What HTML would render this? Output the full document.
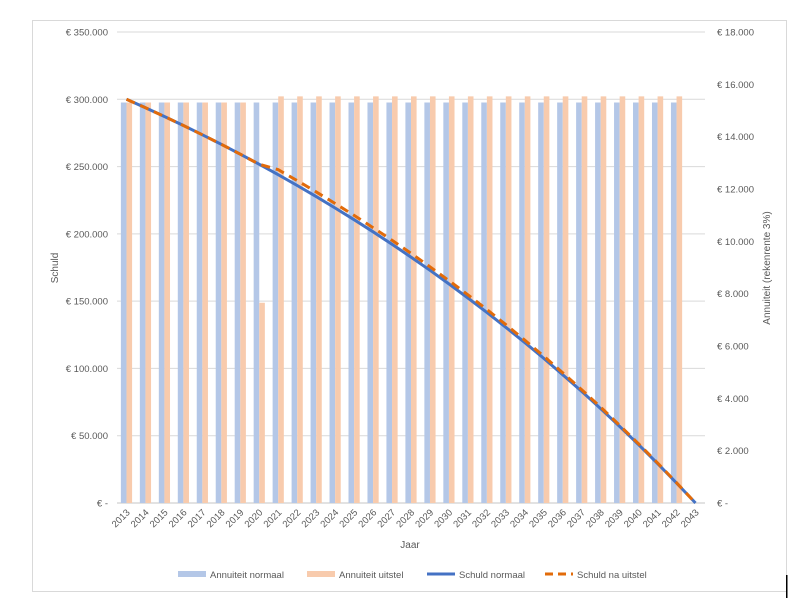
<!DOCTYPE html>
<html><head><meta charset="utf-8"><style>
body{margin:0;background:#fff;}
svg text{font-family:"Liberation Sans",sans-serif;fill:#595959;}
</style></head><body>
<svg id="c" width="804" height="607" xmlns="http://www.w3.org/2000/svg"></svg>
<script>
const s=document.getElementById('c');let h='';
h+='<rect x="32.5" y="20.5" width="754" height="571" fill="#fff" stroke="#d9d9d9"/>';
h+='<rect x="786" y="575" width="1.5" height="23" fill="#000"/>';
const x0=117,x1=705,y0=503,yt=32,H=y0-yt,n=31,cw=(x1-x0)/n;
const yl=v=>y0-v/350000*H, yr=v=>y0-v/18000*H, cx=i=>x0+cw*(i+0.5);
for(let k=0;k<=7;k++){const y=yl(k*50000);
 if(k>0)h+=`<line x1="${x0}" x2="${x1}" y1="${y}" y2="${y}" stroke="#d9d9d9"/>`;
 const lab=k==0?'€ -':'€ '+(k*50)+'.000';
 h+=`<text x="108" y="${y+3.5}" font-size="9.5" text-anchor="end">${lab}</text>`;}
for(let k=0;k<=9;k++){const v=k*2000;const y=yr(v);
 const lab=k==0?'€ -':'€ '+(v/1000)+'.000';
 h+=`<text x="717" y="${y+3.5}" font-size="9.5">${lab}</text>`;}
h+=`<line x1="${x0}" x2="${x1}" y1="${y0}" y2="${y0}" stroke="#d9d9d9" stroke-width="1.5"/>`;
const r=1.03,A=300000*0.03/(1-Math.pow(r,-30));
const B=[];for(let k=0;k<=30;k++)B.push(300000*Math.pow(r,k)-A*(Math.pow(r,k)-1)/0.03);
const A2=15540,half=A/2;
const U=B.map((v,k)=>k<=7?v:v*A2/A);
const bw=5.6;
for(let i=0;i<n;i++){const c=cx(i);
 if(i<30)h+=`<rect x="${c-bw}" y="${yr(A)}" width="${bw}" height="${y0-yr(A)}" fill="#b4c7e7"/>`;
 let o=i<7?A:(i==7?half:(i<30?A2:0));
 if(o>0)h+=`<rect x="${c}" y="${yr(o)}" width="${bw}" height="${y0-yr(o)}" fill="#f8cbad"/>`;
 h+=`<text transform="translate(${c+4},${y0+10}) rotate(-45)" font-size="9.5" text-anchor="end">${2013+i}</text>`;}
const pts=a=>a.map((v,i)=>cx(i).toFixed(1)+','+yl(Math.max(v,0)).toFixed(1)).join(' ');
h+=`<polyline points="${pts(B)}" fill="none" stroke="#4472c4" stroke-width="3"/>`;
h+=`<polyline points="${pts(U)}" fill="none" stroke="#e26b0a" stroke-width="3" stroke-dasharray="9,6"/>`;
h+=`<text transform="translate(58,268) rotate(-90)" font-size="10" text-anchor="middle">Schuld</text>`;
h+=`<text transform="translate(770,268) rotate(-90)" font-size="10" text-anchor="middle">Annuiteit (rekenrente 3%)</text>`;
h+=`<text x="410" y="548" font-size="10" text-anchor="middle">Jaar</text>`;
const ly=575;
h+=`<rect x="178" y="${ly-4}" width="28" height="6" fill="#b4c7e7"/><text x="210" y="${ly+3}" font-size="9.5">Annuiteit normaal</text>`;
h+=`<rect x="307" y="${ly-4}" width="28" height="6" fill="#f8cbad"/><text x="339" y="${ly+3}" font-size="9.5">Annuiteit uitstel</text>`;
h+=`<line x1="427" x2="455" y1="${ly-1}" y2="${ly-1}" stroke="#4472c4" stroke-width="3"/><text x="459" y="${ly+3}" font-size="9.5">Schuld normaal</text>`;
h+=`<line x1="545" x2="573" y1="${ly-1}" y2="${ly-1}" stroke="#e26b0a" stroke-width="3" stroke-dasharray="8,5"/><text x="577" y="${ly+3}" font-size="9.5">Schuld na uitstel</text>`;
s.innerHTML=h;
</script>
</body></html>
